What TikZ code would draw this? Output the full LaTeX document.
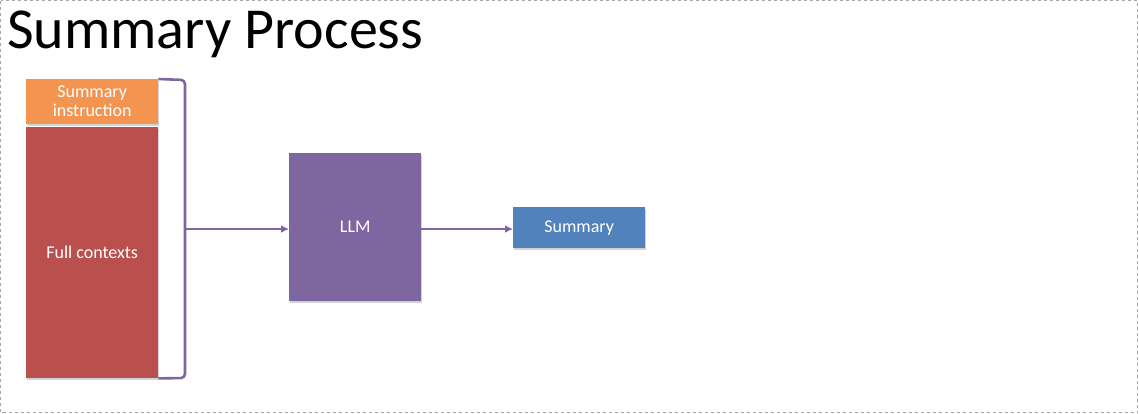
\documentclass[tikz,border=0pt]{standalone}
\usepackage{fontspec}
\setmainfont{Carlito}
\usetikzlibrary{arrows.meta,shadows}
\definecolor{orangebox}{HTML}{F39550}
\definecolor{redbox}{HTML}{B9504E}
\definecolor{purplebox}{HTML}{7E66A0}
\definecolor{bluebox}{HTML}{5282BC}
\begin{document}
\begin{tikzpicture}[x=1pt,y=-1pt,line join=round,
	box/.style={anchor=north west,inner sep=0pt,text=white,align=center,font=\fontsize{18}{21}\selectfont,
		drop shadow={shadow xshift=0.6pt,shadow yshift=-1.6pt,opacity=0.35}},
	link/.style={purplebox,line width=2.6pt,-{Latex[length=8pt,width=8pt]}}]
	\useasboundingbox (0,0) rectangle (1139,413);
	%cadre
	\draw[gray!70,dashed,line width=0.6pt] (0.5,0.5) rectangle (1137.5,412.5);
	%titre
	\node[anchor=base west,inner sep=0pt,font=\fontsize{58}{62}\selectfont] (title) at (7,48) {Summary Process};
	%blocs
	\node[box,fill=orangebox,minimum width=132pt,minimum height=45pt] (instr) at (26,79) {Summary\\[-2pt]instruction};
	\node[box,fill=redbox,minimum width=132pt,minimum height=251pt] (ctx) at (26,127) {Full contexts};
	\node[box,fill=purplebox,minimum width=132pt,minimum height=148pt] (llm) at (289,153) {LLM};
	\node[box,fill=bluebox,minimum width=132pt,minimum height=41pt] (summ) at (513,207) {Summary};
	%accolade
	\coordinate (brtop) at (185,80);
	\coordinate (brbot) at (185,378);
	\coordinate (brmid) at (185,229);
	\draw[purplebox,line width=2.6pt,rounded corners=4pt] (instr.north east) -- (brtop) -- (brbot) -- (ctx.south east);
	%flèches
	\draw[link] (brmid) -- (brmid -| llm.west);
	\draw[link] (llm.east |- brmid) -- (summ.west |- brmid);
\end{tikzpicture}
\end{document}
